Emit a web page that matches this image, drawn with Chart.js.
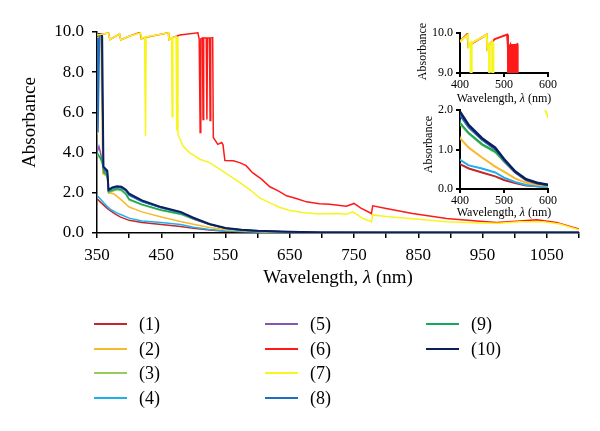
<!DOCTYPE html>
<html>
<head>
<meta charset="utf-8">
<script src="https://cdn.jsdelivr.net/npm/chart.js@4.4.0/dist/chart.umd.min.js"></script>
<style>
  body { margin: 0; background: #fff; }
  #wrap { position: relative; width: 600px; height: 431px; background: #fff; overflow: hidden; }
  #wrap canvas { position: absolute; }
  #legend { position: absolute; left: 0; top: 0; font-family: 'Liberation Serif', 'Times New Roman', serif; font-size: 18px; color: #000; }
  .item { position: absolute; height: 24px; line-height: 24px; white-space: nowrap; }
  .swatch { position: absolute; left: 0; top: 11px; width: 33px; height: 2px; }
  .lbl { position: absolute; left: 45px; top: 0; }
</style>
</head>
<body>
<div id="wrap">
  <canvas id="mainChart" width="600" height="431" style="left:0;top:0"></canvas>
  <canvas id="topInset" width="180" height="110" style="left:400px;top:0"></canvas>
  <canvas id="bottomInset" width="180" height="125" style="left:400px;top:100px"></canvas>
  <div id="legend"></div>
</div>
<script>
// Absorbance spectra, wavelength (nm) / absorbance pairs
const labels = ['(1)', '(2)', '(3)', '(4)', '(5)', '(6)', '(7)', '(8)', '(9)', '(10)'];
const colors = ['#c0282d', '#f9b92c', '#96cc5a', '#1fb0ec', '#8059b5', '#ff1a1a', '#f7f51e', '#1f6fbf', '#16a95a', '#0b1f5c'];

const wl1 = [350, 355, 360, 365, 370, 378, 386, 400, 420, 450, 480, 500, 525, 550, 575, 600, 650, 700, 800, 900, 1000, 1100];
const abs1 = [1.7, 1.55, 1.4, 1.25, 1.12, 0.95, 0.8, 0.63, 0.52, 0.42, 0.32, 0.23, 0.15, 0.09, 0.07, 0.05, 0.03, 0.02, 0.01, 0.01, 0.01, 0.01];

const wl2 = [350, 352, 356, 359, 366, 368, 376, 386, 400, 420, 450, 480, 500, 525, 550, 575, 600, 650, 700, 800, 900, 1000, 1100];
const abs2 = [4.9, 9.85, 9.8, 2.95, 2.8, 2.0, 1.95, 1.7, 1.29, 1.05, 0.8, 0.57, 0.44, 0.27, 0.16, 0.11, 0.08, 0.04, 0.02, 0.01, 0.01, 0.01, 0.01];

const wl3 = [350, 355, 358, 361, 366, 368, 374, 381, 388, 395, 400, 420, 450, 480, 500, 525, 550, 575, 600, 650, 700, 800, 900, 1000, 1100];
const abs3 = [3.9, 3.7, 3.5, 2.95, 2.85, 2.0, 2.08, 2.15, 2.1, 1.9, 1.64, 1.4, 1.12, 0.93, 0.7, 0.43, 0.23, 0.14, 0.09, 0.05, 0.03, 0.02, 0.02, 0.02, 0.02];

const wl4 = [350, 355, 360, 365, 370, 378, 386, 400, 420, 450, 480, 500, 525, 550, 575, 600, 650, 700, 800, 900, 1000, 1100];
const abs4 = [1.86, 1.7, 1.52, 1.35, 1.2, 1.05, 0.93, 0.74, 0.6, 0.52, 0.42, 0.29, 0.18, 0.1, 0.07, 0.05, 0.03, 0.02, 0.01, 0.01, 0.01, 0.01];

const wl5 = [350, 353, 355, 358, 361, 366, 368, 374, 381, 388, 395, 400, 420, 450, 480, 500, 525, 550, 575, 600, 650, 700, 800, 900, 1000, 1100];
const abs5 = [4.0, 4.3, 4.05, 3.6, 3.1, 3.0, 2.1, 2.2, 2.27, 2.24, 2.1, 1.88, 1.56, 1.25, 1.0, 0.7, 0.42, 0.22, 0.14, 0.1, 0.05, 0.03, 0.02, 0.02, 0.02, 0.02];

const wl6 = [350, 368, 370, 385, 387, 400, 417, 419, 430, 461, 462, 468, 479, 507, 509, 510.5, 511.5, 514, 515, 516, 520, 521, 522, 525, 526, 527, 530, 531, 538, 544, 546, 549, 562, 572, 582, 592, 606, 619, 632, 645, 660, 676, 696, 712, 738, 750, 760, 777, 779, 800, 841, 894, 946, 972, 1008, 1034, 1065, 1100];
const abs6 = [9.85, 9.95, 9.62, 9.9, 9.6, 9.79, 9.98, 9.66, 9.76, 9.96, 9.62, 9.73, 9.85, 9.96, 9.65, 5.0, 9.65, 9.7, 5.65, 9.7, 9.7, 5.65, 9.7, 9.7, 5.6, 9.7, 9.72, 4.75, 4.41, 4.5, 4.4, 3.6, 3.59, 3.5, 3.35, 3.0, 2.68, 2.3, 2.1, 1.85, 1.72, 1.55, 1.45, 1.43, 1.33, 1.47, 1.25, 0.97, 1.35, 1.22, 0.97, 0.72, 0.58, 0.52, 0.6, 0.66, 0.52, 0.2];

const wl7 = [350, 368, 370, 385, 387, 400, 418, 419, 424, 425.5, 426.5, 428, 461, 462, 466, 467, 468, 471, 473, 474, 475, 476, 478, 484, 494, 510, 525, 541, 556, 572, 588, 603, 619, 634, 650, 670, 696, 722, 738, 748, 764, 777, 779, 800, 841, 894, 946, 975, 1008, 1044, 1070, 1100];
const abs7 = [9.85, 9.95, 9.62, 9.9, 9.6, 9.79, 9.96, 9.66, 9.75, 4.83, 9.72, 9.76, 9.96, 9.62, 9.7, 5.78, 9.73, 9.75, 9.78, 5.1, 9.75, 4.9, 4.75, 4.33, 4.0, 3.67, 3.5, 3.18, 2.85, 2.52, 2.15, 1.75, 1.5, 1.28, 1.12, 1.02, 0.95, 0.97, 0.93, 1.05, 0.72, 0.56, 0.9, 0.82, 0.71, 0.56, 0.5, 0.48, 0.56, 0.56, 0.45, 0.16];

const wl8 = [350, 351.5, 354, 357, 360, 366, 368, 374, 381, 388, 395, 400, 420, 450, 480, 500, 525, 550, 575, 600, 650, 700, 800, 900, 1000, 1100];
const abs8 = [9.7, 5.0, 9.9, 9.85, 3.2, 3.0, 2.12, 2.22, 2.28, 2.25, 2.12, 1.88, 1.57, 1.26, 1.02, 0.74, 0.44, 0.24, 0.15, 0.1, 0.05, 0.03, 0.02, 0.02, 0.02, 0.02];

const wl9 = [350, 355, 358, 361, 366, 368, 374, 381, 388, 395, 400, 420, 450, 480, 500, 525, 550, 575, 600, 650, 700, 800, 900, 1000, 1100];
const abs9 = [4.0, 3.75, 3.55, 3.0, 2.9, 2.05, 2.12, 2.2, 2.15, 1.95, 1.68, 1.42, 1.14, 0.95, 0.72, 0.44, 0.24, 0.15, 0.1, 0.05, 0.03, 0.02, 0.02, 0.02, 0.02];

const wl10 = [350, 353, 356, 358, 360, 366, 368, 374, 381, 388, 395, 400, 420, 450, 480, 500, 525, 550, 575, 600, 650, 700, 800, 900, 1000, 1100];
const abs10 = [9.8, 9.9, 9.9, 9.8, 3.3, 3.1, 2.15, 2.27, 2.33, 2.3, 2.15, 1.96, 1.62, 1.29, 1.05, 0.76, 0.45, 0.25, 0.16, 0.11, 0.06, 0.03, 0.02, 0.02, 0.02, 0.02];

const wavelengths = [wl1, wl2, wl3, wl4, wl5, wl6, wl7, wl8, wl9, wl10];
const absorbances = [abs1, abs2, abs3, abs4, abs5, abs6, abs7, abs8, abs9, abs10];
// drawing order: lower number ends up on top
const drawOrder = [9, 7, 6, 8, 5, 1, 0, 3, 4, 2];

const FONT = "'Liberation Serif', 'Times New Roman', serif";

function buildDatasets(width) {
  return labels.map((label, i) => ({
    label: label,
    data: wavelengths[i].map((x, j) => ({ x: x, y: absorbances[i][j] })),
    borderColor: colors[i],
    backgroundColor: colors[i],
    borderWidth: i === 9 ? width + 0.5 : width,
    pointRadius: 0,
    tension: 0,
    fill: false,
    order: drawOrder[i]
  }));
}

// axis titles drawn by hand so the lambda can be italic
const axisTitles = {
  id: 'axisTitles',
  afterDraw(chart, args, opts) {
    const ctx = chart.ctx;
    const xs = chart.scales.x;
    const ys = chart.scales.y;
    const size = opts.size;
    ctx.save();
    ctx.fillStyle = '#000';
    ctx.textBaseline = 'middle';

    const parts = [['Wavelength, ', ''], ['λ', 'italic '], [' (nm)', '']];
    let total = 0;
    parts.forEach(p => {
      ctx.font = p[1] + size + 'px ' + FONT;
      p.push(ctx.measureText(p[0]).width);
      total += p[2];
    });
    let tx = (xs.left + xs.right) / 2 - total / 2;
    const ty = xs.top + opts.xOffset;
    ctx.textAlign = 'left';
    parts.forEach(p => {
      ctx.font = p[1] + size + 'px ' + FONT;
      ctx.fillText(p[0], tx, ty);
      tx += p[2];
    });

    ctx.font = size + 'px ' + FONT;
    ctx.textAlign = 'center';
    ctx.translate(ys.right - opts.yOffset, (ys.top + ys.bottom) / 2 + opts.yShift);
    ctx.rotate(-Math.PI / 2);
    ctx.fillText('Absorbance', 0, 0);
    ctx.restore();
  }
};

function axis(min, max, step, fontSize, tickLen, lineW) {
  return {
    type: 'linear',
    min: min,
    max: max,
    border: { color: '#000', width: lineW },
    grid: { drawOnChartArea: false, color: '#000', lineWidth: lineW, tickLength: tickLen },
    ticks: {
      stepSize: step,
      autoSkip: false,
      maxRotation: 0,
      color: '#000',
      font: { family: FONT, size: fontSize }
    }
  };
}

function createMainChart() {
  const ctx = document.getElementById('mainChart').getContext('2d');
  const x = axis(350, 1100, 50, 17, 5, 1.5);
  x.ticks.padding = 7;
  x.ticks.callback = v => ((v - 350) % 100 === 0 ? String(v) : '');
  x.afterFit = scale => { scale.height = 57; };
  const y = axis(0, 10, 2, 17, 5, 1.5);
  y.ticks.padding = 8;
  y.ticks.callback = v => v.toFixed(1);
  y.afterFit = scale => { scale.width = 97; };

  return new Chart(ctx, {
    type: 'line',
    data: { datasets: buildDatasets(1.5) },
    options: {
      responsive: false,
      animation: false,
      layout: { padding: { top: 32, right: 21, bottom: 141, left: 0 } },
      scales: { x: x, y: y },
      plugins: {
        legend: { display: false },
        tooltip: { enabled: false },
        axisTitles: { size: 19, xOffset: 45, yOffset: 67, yShift: -10 }
      }
    },
    plugins: [axisTitles]
  });
}

function createInset(id, yMin, yMax, padTop, padBottom, xHeight, titleOpts) {
  const ctx = document.getElementById(id).getContext('2d');
  const x = axis(400, 600, 100, 12, 4, 2);
  x.ticks.padding = 1;
  x.afterFit = scale => { scale.height = xHeight; };
  const y = axis(yMin, yMax, 1, 12, 4, 2);
  y.ticks.padding = 3;
  y.ticks.callback = v => v.toFixed(1);
  y.afterFit = scale => { scale.width = 60; };

  return new Chart(ctx, {
    type: 'line',
    data: { datasets: buildDatasets(2) },
    options: {
      responsive: false,
      animation: false,
      layout: { padding: { top: padTop, right: 32, bottom: padBottom, left: 0 } },
      scales: { x: x, y: y },
      plugins: {
        legend: { display: false },
        tooltip: { enabled: false },
        axisTitles: titleOpts
      }
    },
    plugins: [axisTitles]
  });
}

// legend in three columns of four, filled top to bottom
function buildLegend(chart) {
  const box = document.getElementById('legend');
  const colLeft = [94, 265, 426];
  chart.data.datasets.forEach((ds, i) => {
    const item = document.createElement('div');
    item.className = 'item';
    item.style.left = colLeft[Math.floor(i / 4)] + 'px';
    item.style.top = (312 + (i % 4) * 24.7) + 'px';
    item.innerHTML = '<span class="swatch" style="background:' + ds.borderColor + '"></span><span class="lbl">' + ds.label + '</span>';
    box.appendChild(item);
  });
}

const mainChart = createMainChart();
createInset('topInset', 9, 10, 33, 3, 34, { size: 12, xOffset: 26, yOffset: 37, yShift: -1.5 });
createInset('bottomInset', 0, 2, 10, 4, 32, { size: 12, xOffset: 24, yOffset: 31, yShift: -5 });
buildLegend(mainChart);
</script>
</body>
</html>
